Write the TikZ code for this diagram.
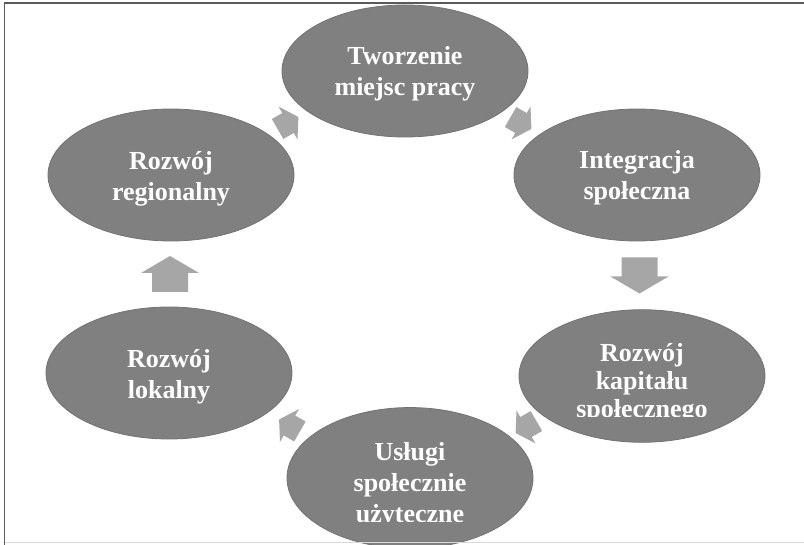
\documentclass[tikz,border=0pt]{standalone}
\usepackage{fontspec}
\setmainfont{Liberation Serif}
\usetikzlibrary{shapes.geometric,calc}
\definecolor{bubblegray}{HTML}{808080}
\definecolor{bubbleedge}{HTML}{737373}
\definecolor{arrowgray}{HTML}{A6A6A6}
\definecolor{framecol}{HTML}{5A5A5A}
\definecolor{baselinecol}{HTML}{D9D9D9}
\newcommand\firstlinedrop[1]{\rule{0pt}{#1}}
\tikzset{
  bubble/.style={ellipse, fill=bubblegray, draw=bubbleedge, line width=0.8pt,
    minimum width=246pt, minimum height=132pt, inner sep=0pt, text=white,
    align=center, font=\fontsize{26}{31}\selectfont\bfseries},
  pics/cyclearrow/.style n args={4}{code={
    \fill[arrowgray] ({-#1/2},{-#4/2}) -- ({#1/2-#2},{-#4/2}) -- ({#1/2-#2},{-#3/2})
      -- ({#1/2},0) -- ({#1/2-#2},{#3/2}) -- ({#1/2-#2},{#4/2}) -- ({-#1/2},{#4/2}) -- cycle;
  }},
}
\begin{document}
\begin{tikzpicture}[x=1pt,y=-1pt]
\useasboundingbox (0,0) rectangle (804,545);
% cycle nodes
\node[bubble] (work) at (405,71) {\firstlinedrop{24pt}Tworzenie\\miejsc pracy};
\node[bubble] (integ) at (637,175) {\firstlinedrop{24pt}Integracja\\społeczna};
\node[bubble, font=\fontsize{26}{28}\selectfont\bfseries] (capital) at (642,376)
  {\firstlinedrop{32pt}Rozwój\\kapitału\\społecznego};
\node[bubble] (services) at (410,478) {\firstlinedrop{32pt}Usługi\\społecznie\\użyteczne};
\node[bubble] (local) at (169,373) {\firstlinedrop{25pt}Rozwój\\lokalny};
\node[bubble] (region) at (171,175) {\firstlinedrop{25pt}Rozwój\\regionalny};
% clipped text bottoms
\begin{scope}
  \clip (capital.center) ellipse [x radius=122, y radius=65];
  \fill[bubblegray] ($(capital.center)+(-80,41)$) rectangle ($(capital.center)+(80,70)$);
\end{scope}
\begin{scope}
  \clip (services.center) ellipse [x radius=122, y radius=65];
  \fill[bubblegray] ($(services.center)+(-80,44)$) rectangle ($(services.center)+(80,70)$);
\end{scope}
% arrows between nodes
\pic[rotate=-30] at ($(work)!0.5!(integ)$) {cyclearrow={24}{12}{38}{23}};
\pic[rotate=-90] at ($(integ)!0.5!(capital)$) {cyclearrow={36}{17}{58}{36}};
\pic[rotate=210] at ($(capital)!0.5!(services)$) {cyclearrow={24}{12}{38}{23}};
\pic[rotate=150] at ($(services)!0.5!(local)$) {cyclearrow={24}{12}{38}{23}};
\pic[rotate=90] at ($(local)!0.5!(region)$) {cyclearrow={36}{17}{58}{36}};
\pic[rotate=30] at ($(region)!0.5!(work)$) {cyclearrow={24}{12}{38}{23}};
% frame
\draw[baselinecol, line width=1pt] (5,542.5) -- (804,542.5);
\draw[framecol, line width=1.6pt] (4.5,545) -- (4.5,3) -- (804,3);
\end{tikzpicture}
\end{document}
